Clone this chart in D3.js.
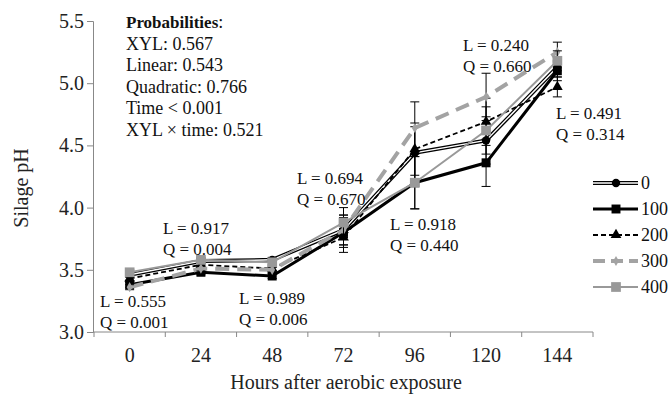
<!DOCTYPE html>
<html>
<head>
<meta charset="utf-8">
<script src="https://cdn.jsdelivr.net/npm/d3@7"></script>
<style>
  body { margin: 0; background: #fff; }
  svg { display: block; font-family: "Liberation Serif", "DejaVu Serif", serif; }
</style>
</head>
<body>
<svg id="chart" width="671" height="395"></svg>
<script>
// hours after aerobic exposure
const hours = ['0', '24', '48', '72', '96', '120', '144'];
const yTicks = [3.0, 3.5, 4.0, 4.5, 5.0, 5.5];

// silage pH per xylanase level
const xyl0   = [3.46, 3.57, 3.58, 3.82, 4.44, 4.54, 5.13];
const xyl100 = [3.38, 3.48, 3.45, 3.80, 4.20, 4.36, 5.10];
const xyl200 = [3.43, 3.54, 3.51, 3.76, 4.47, 4.69, 4.97];
const xyl300 = [3.36, 3.51, 3.50, 3.82, 4.64, 4.89, 5.25];
const xyl400 = [3.48, 3.58, 3.56, 3.88, 4.20, 4.62, 5.18];
// standard error per time point
const sem = [0.02, 0.02, 0.02, 0.12, 0.21, 0.19, 0.08];

const probLines = ['XYL: 0.567', 'Linear: 0.543', 'Quadratic: 0.766', 'Time < 0.001', 'XYL \u00d7 time: 0.521'];
const contrastL = ['0.555', '0.917', '0.989', '0.694', '0.918', '0.240', '0.491'];
const contrastQ = ['0.001', '0.004', '0.006', '0.670', '0.440', '0.660', '0.314'];

const svg = d3.select('#chart');
const axisColor = '#888';
const grey = '#a3a3a3';

const x = d3.scaleBand().domain(hours).range([94, 593]).padding(0);
const y = d3.scaleLinear().domain([3, 5.5]).range([332, 21]);
const cx = (h) => x(h) + x.bandwidth() / 2;

const styles = [
  { name: '0', values: xyl0, color: '#000', width: 4, dash: null, inner: true, symbol: d3.symbolCircle, size: 55, fill: '#000' },
  { name: '100', values: xyl100, color: '#000', width: 3, dash: null, inner: false, symbol: d3.symbolSquare, size: 80, fill: '#000' },
  { name: '200', values: xyl200, color: '#000', width: 1.8, dash: '5,3', inner: false, symbol: d3.symbolTriangle, size: 50, fill: '#000' },
  { name: '300', values: xyl300, color: grey, width: 4, dash: '14,8', inner: false, symbol: d3.symbolDiamond, size: 30, fill: grey },
  { name: '400', values: xyl400, color: '#999', width: 2, dash: null, inner: false, symbol: d3.symbolSquare, size: 95, fill: '#999' }
];

// axes
const yAxis = d3.axisLeft(y).tickValues(yTicks).tickFormat(d3.format('.1f')).tickSize(6).tickPadding(3);
const gy = svg.append('g').attr('transform', 'translate(93,0)').call(yAxis);
gy.select('.domain').attr('stroke', axisColor);
gy.selectAll('.tick line').attr('stroke', axisColor);
gy.selectAll('.tick text').attr('font-size', 20).attr('fill', '#222').attr('font-family', 'Liberation Serif');

svg.append('line')
  .attr('x1', 93).attr('x2', 593).attr('y1', 332).attr('y2', 332)
  .attr('stroke', axisColor);
const edges = hours.map((h) => x(h)).concat([x(hours[hours.length - 1]) + x.bandwidth()]);
svg.selectAll('line.xtick').data(edges).enter().append('line')
  .attr('class', 'xtick')
  .attr('x1', (d) => d).attr('x2', (d) => d)
  .attr('y1', 332).attr('y2', 337)
  .attr('stroke', axisColor);
svg.selectAll('text.xlab').data(hours).enter().append('text')
  .attr('class', 'xlab')
  .attr('x', (d) => cx(d)).attr('y', 362)
  .attr('text-anchor', 'middle')
  .attr('font-size', 20).attr('fill', '#222')
  .text((d) => d);

svg.append('text')
  .attr('x', 346).attr('y', 389)
  .attr('text-anchor', 'middle').attr('font-size', 20).attr('fill', '#222')
  .text('Hours after aerobic exposure');
svg.append('text')
  .attr('transform', 'translate(28,188) rotate(-90)')
  .attr('text-anchor', 'middle').attr('font-size', 20).attr('fill', '#222')
  .text('Silage pH');

// lines
const line = d3.line().x((d, i) => cx(hours[i])).y((d) => y(d));
styles.forEach((s) => {
  const g = svg.append('g');
  g.append('path')
    .datum(s.values)
    .attr('d', line)
    .attr('fill', 'none')
    .attr('stroke', s.color)
    .attr('stroke-width', s.width)
    .attr('stroke-dasharray', s.dash);
  if (s.inner) {
    g.append('path')
      .datum(s.values)
      .attr('d', line)
      .attr('fill', 'none')
      .attr('stroke', '#fff')
      .attr('stroke-width', 1.5);
  }
  // error bars
  const eb = g.selectAll('g.err').data(s.values).enter().append('g').attr('class', 'err');
  eb.append('line')
    .attr('x1', (d, i) => cx(hours[i])).attr('x2', (d, i) => cx(hours[i]))
    .attr('y1', (d, i) => y(d - sem[i])).attr('y2', (d, i) => y(d + sem[i]))
    .attr('stroke', '#000').attr('stroke-width', 1);
  [1, -1].forEach((sgn) => {
    eb.append('line')
      .attr('x1', (d, i) => cx(hours[i]) - 4.5).attr('x2', (d, i) => cx(hours[i]) + 4.5)
      .attr('y1', (d, i) => y(d + sgn * sem[i])).attr('y2', (d, i) => y(d + sgn * sem[i]))
      .attr('stroke', '#000').attr('stroke-width', 1);
  });
  g.selectAll('path.mark').data(s.values).enter().append('path')
    .attr('class', 'mark')
    .attr('d', d3.symbol().type(s.symbol).size(s.size))
    .attr('transform', (d, i) => 'translate(' + cx(hours[i]) + ',' + y(d) + ')')
    .attr('fill', s.fill);
});

// probabilities block
const prob = svg.append('text').attr('font-size', 18).attr('fill', '#111');
prob.append('tspan').attr('x', 126).attr('y', 28).attr('font-weight', 'bold').attr('font-size', 17).text('Probabilities');
prob.append('tspan').text(':');
probLines.forEach((t, i) => {
  prob.append('tspan').attr('x', 126).attr('y', 28 + (i + 1) * 21.6).text(t);
});

// L / Q contrast labels
const lqPos = [[100, 307], [163, 234], [239, 304], [297, 184], [390, 230], [463, 51], [556, 119]];
contrastL.forEach((l, i) => {
  const t = svg.append('text').attr('font-size', 17).attr('fill', '#111');
  t.append('tspan').attr('x', lqPos[i][0]).attr('y', lqPos[i][1]).text('L = ' + l);
  t.append('tspan').attr('x', lqPos[i][0]).attr('y', lqPos[i][1] + 21).text('Q = ' + contrastQ[i]);
});

// legend
const leg = svg.append('g');
styles.forEach((s, i) => {
  const ly = 183 + i * 26;
  leg.append('line')
    .attr('x1', 593).attr('x2', 638).attr('y1', ly).attr('y2', ly)
    .attr('stroke', s.color).attr('stroke-width', s.width)
    .attr('stroke-dasharray', s.dash === '14,8' ? '12,6' : s.dash);
  if (s.inner) {
    leg.append('line')
      .attr('x1', 593).attr('x2', 638).attr('y1', ly).attr('y2', ly)
      .attr('stroke', '#fff').attr('stroke-width', 1.5);
  }
  leg.append('path')
    .attr('d', d3.symbol().type(s.symbol).size(s.size))
    .attr('transform', 'translate(616,' + ly + ')')
    .attr('fill', s.fill);
  leg.append('text')
    .attr('x', 641).attr('y', ly).attr('dy', '0.35em')
    .attr('font-size', 18).attr('fill', '#111')
    .text(s.name);
});
</script>
</body>
</html>
